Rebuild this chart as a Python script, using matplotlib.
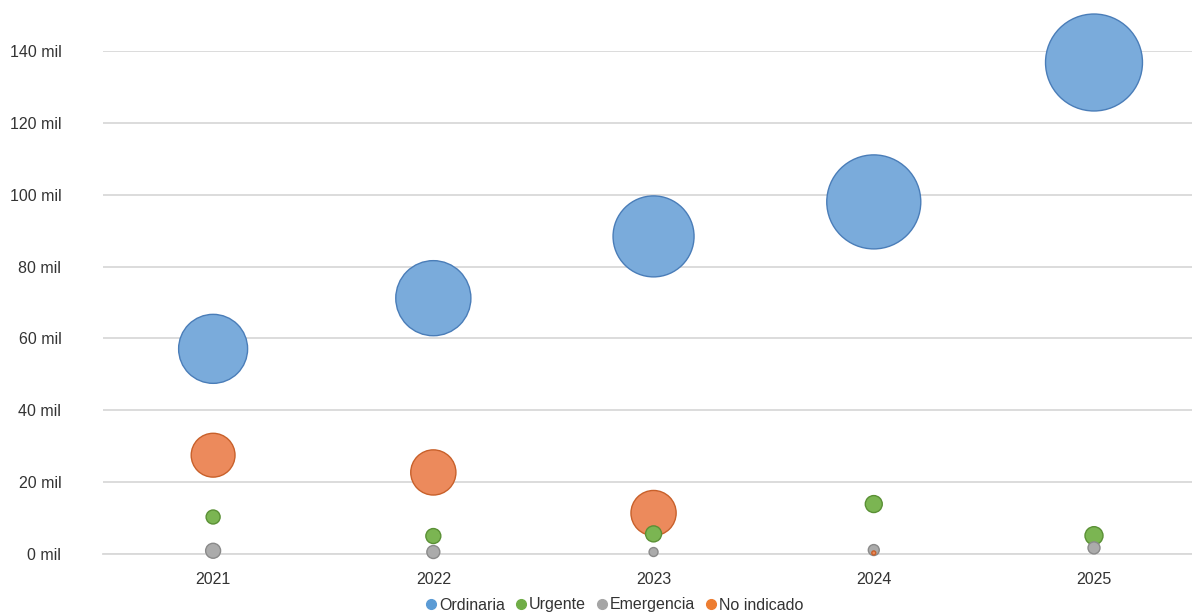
import numpy as np
import matplotlib
matplotlib.use("Agg")
import matplotlib.pyplot as plt
from matplotlib.lines import Line2D
from matplotlib.ticker import FuncFormatter, MultipleLocator

plt.rcParams['font.family'] = ['Liberation Sans', 'DejaVu Sans']

# ---- data (values in thousands) ----
years = [2021, 2022, 2023, 2024, 2025]
series_names = ["Ordinaria", "Urgente", "Emergencia", "No indicado"]
ordinaria = [57.1, 71.2, 88.4, 98.0, 136.8]
urgente = [10.3, 5.0, 5.6, 13.9, 5.1]
emergencia = [0.9, 0.55, 0.55, 1.1, 1.7]
no_indicado = [27.5, 22.7, 11.4, 0.3, np.nan]
# bubble size variable (relative units, area-proportional)
size_ordinaria = [119, 141, 164, 221, 235]
size_urgente = [4.9, 5.6, 6.4, 7.2, 8.1]
size_emergencia = [5.6, 4.2, 2.0, 3.0, 3.6]
size_no_indicado = [48, 51, 51, 0.4, np.nan]

# ---- styles ----
fills = ["#7AABDB", "#7BB552", "#ABABAB", "#EC8A5C"]
edges = ["#4A7DB8", "#5A9035", "#8A8A8A", "#C8602A"]
legend_colors = ["#5B9BD5", "#70AD47", "#A5A5A5", "#ED7D31"]
SIZE_SCALE = 10 * (2 * 72 / 100) ** 2  # size unit -> points^2

fig = plt.figure(figsize=(11.92, 6.14), dpi=100)
ax = fig.add_axes([103 / 1192, 60 / 614, 1 - 103 / 1192, 503 / 614])

vals = [ordinaria, urgente, emergencia, no_indicado]
sizes = [size_ordinaria, size_urgente, size_emergencia, size_no_indicado]

xs, ys, ss, fc, ec = [], [], [], [], []
for k in range(4):
    for i, yr in enumerate(years):
        v, s = vals[k][i], sizes[k][i]
        if np.isnan(v) or np.isnan(s):
            continue
        xs.append(yr); ys.append(v); ss.append(s * SIZE_SCALE)
        fc.append(fills[k]); ec.append(edges[k])
order = np.argsort(ss)[::-1]
ax.scatter(np.array(xs)[order], np.array(ys)[order], s=np.array(ss)[order],
           c=np.array(fc)[order], edgecolors=np.array(ec)[order],
           linewidths=1.0, clip_on=False, zorder=3)

ax.set_xlim(2020.5, 2025.445)
ax.set_ylim(0, 140)
ax.set_xticks(years)
ax.set_xticklabels([str(y) for y in years])
ax.yaxis.set_major_locator(MultipleLocator(20))
ax.yaxis.set_major_formatter(FuncFormatter(lambda v, p: f"{int(v)} mil"))
ax.grid(axis='y', color='#D9D9D9', linewidth=1.3)
ax.set_axisbelow(True)
for sp in ['top', 'right', 'left']:
    ax.spines[sp].set_visible(False)
ax.spines['bottom'].set_color('#D9D9D9')
ax.spines['bottom'].set_linewidth(1.3)
ax.tick_params(axis='both', length=0, labelsize=11.5, colors='#404040')
ax.tick_params(axis='y', pad=30)
ax.tick_params(axis='x', pad=13)
for lab in ax.get_xticklabels() + ax.get_yticklabels():
    lab.set_color('#333333')

handles = [Line2D([], [], marker='o', linestyle='none', markersize=7,
                  markerfacecolor=c, markeredgecolor=c) for c in legend_colors]
fig.legend(handles, series_names, loc='center', ncol=4,
           bbox_to_anchor=(613 / 1192, 1 - 605 / 614), frameon=False,
           fontsize=11.5, handletextpad=0.0, columnspacing=0.5,
           handlelength=1.0, labelcolor='#333333')

fig.savefig("out.png", dpi=100)
